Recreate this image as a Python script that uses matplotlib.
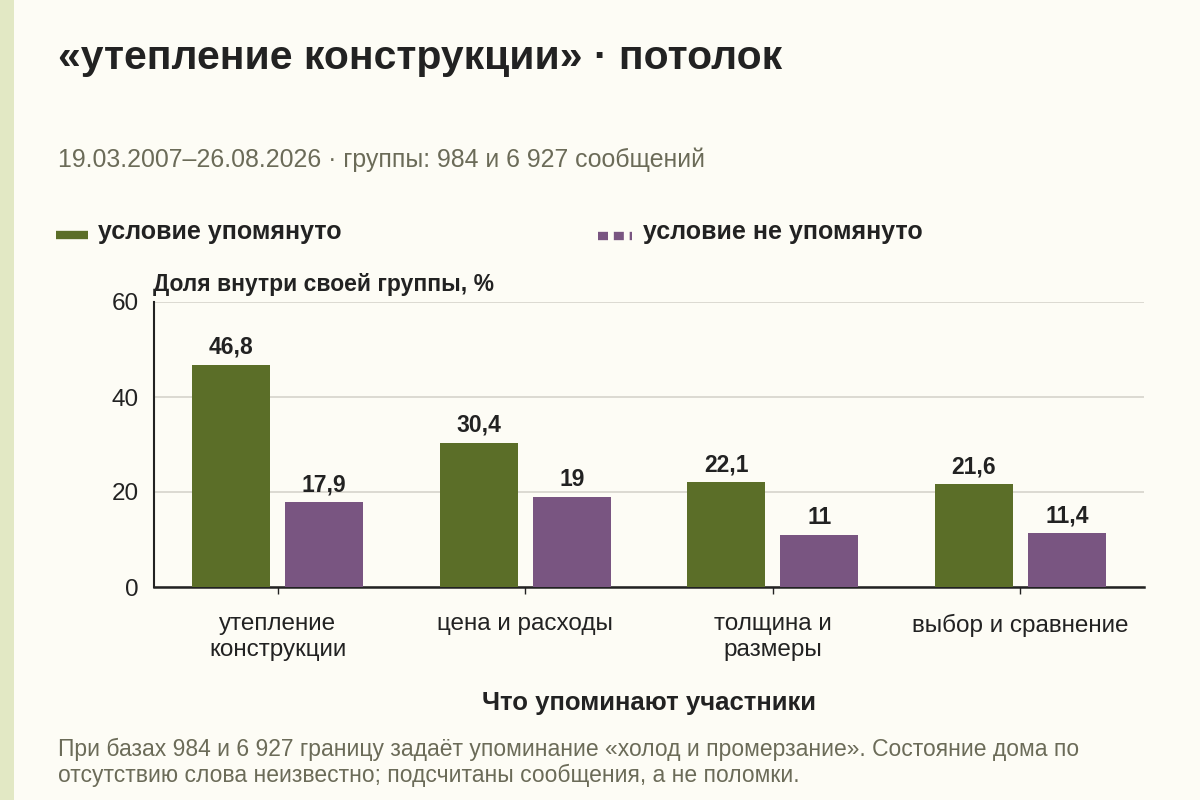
import matplotlib
matplotlib.use("Agg")
import matplotlib.pyplot as plt
from matplotlib.lines import Line2D
from matplotlib.patches import Rectangle
import numpy as np

plt.rcParams['font.family'] = ['Liberation Sans', 'DejaVu Sans']

categories = ["утепление\nконструкции", "цена и расходы", "толщина и\nразмеры", "выбор и сравнение"]
mentioned = [46.8, 30.4, 22.1, 21.6]
not_mentioned = [17.9, 19, 11, 11.4]
mentioned_labels = ["46,8", "30,4", "22,1", "21,6"]
not_mentioned_labels = ["17,9", "19", "11", "11,4"]

green = "#5b6e28"
purple = "#795581"
bg = "#fdfcf5"
dark = "#222222"
grey = "#6b6b58"

fig = plt.figure(figsize=(12, 8), dpi=100, facecolor=bg)
fig.patches.append(Rectangle((0, 0), 14 / 1200, 1, transform=fig.transFigure,
                             facecolor="#e2e8c4", edgecolor="none", zorder=0))

ax = fig.add_axes([154 / 1200, 1 - 587 / 800, 990 / 1200, 285 / 800])
ax.set_facecolor(bg)

x = np.arange(len(categories))
w = 0.315
off = 0.188
b1 = ax.bar(x - off, mentioned, w, color=green, zorder=3)
b2 = ax.bar(x + off, not_mentioned, w, color=purple, zorder=3)

for rect, lab in zip(b1, mentioned_labels):
    ax.text(rect.get_x() + rect.get_width() / 2, rect.get_height() + 1.2, lab,
            ha="center", va="bottom", fontsize=16.5, fontweight="bold", color=dark)
for rect, lab in zip(b2, not_mentioned_labels):
    ax.text(rect.get_x() + rect.get_width() / 2, rect.get_height() + 1.2, lab,
            ha="center", va="bottom", fontsize=16.5, fontweight="bold", color=dark)

ax.set_xlim(-0.5, 3.5)
ax.set_ylim(0, 60)
ax.set_yticks([0, 20, 40, 60])
ax.yaxis.grid(True, color="#d6d4cc", linewidth=1.2, zorder=0)
ax.set_axisbelow(True)
for s in ["top", "right"]:
    ax.spines[s].set_visible(False)
ax.spines["left"].set_color(dark)
ax.spines["bottom"].set_color(dark)
ax.spines["left"].set_linewidth(1.5)
ax.spines["bottom"].set_linewidth(1.8)
ax.tick_params(axis="y", length=0, pad=11, labelsize=17.5, labelcolor=dark)
ax.tick_params(axis="x", length=5, width=1, color=dark, pad=14, labelsize=17.5, labelcolor=dark)
ax.set_xticks(x)
ax.set_xticklabels(categories, linespacing=1.2)

ax.set_xlabel("Что упоминают участники", fontsize=18.5, fontweight="bold", color=dark, labelpad=22)

fig.text(153 / 1200, 1 - 285 / 800, "Доля внутри своей группы, %", fontsize=16.5,
         fontweight="bold", color=dark, va="center", ha="left")

fig.text(58 / 1200, 1 - 58 / 800, "«утепление конструкции» · потолок", fontsize=29.4,
         fontweight="bold", color=dark, va="center", ha="left")
fig.text(58 / 1200, 1 - 160 / 800, "19.03.2007–26.08.2026 · группы: 984 и 6 927 сообщений",
         fontsize=17.9, color=grey, va="center", ha="left")

# legend
fig.add_artist(Line2D([56 / 1200, 88 / 1200], [1 - 235 / 800] * 2, color=green, linewidth=6,
                      solid_capstyle="butt"))
fig.text(98 / 1200, 1 - 232 / 800, "условие упомянуто", fontsize=18, fontweight="bold",
         color=dark, va="center", ha="left")
fig.add_artist(Line2D([598 / 1200, 632 / 1200], [1 - 236 / 800] * 2, color=purple, linewidth=6,
                      linestyle=(0, (1.2, 0.7)), solid_capstyle="butt", dash_capstyle="butt"))
fig.text(643 / 1200, 1 - 232 / 800, "условие не упомянуто", fontsize=18, fontweight="bold",
         color=dark, va="center", ha="left")

fig.text(58 / 1200, 1 - 762 / 800,
         "При базах 984 и 6 927 границу задаёт упоминание «холод и промерзание». Состояние дома по\n"
         "отсутствию слова неизвестно; подсчитаны сообщения, а не поломки.",
         fontsize=16.5, color=grey, va="center", ha="left", linespacing=1.15)

fig.savefig("out.png", dpi=100, facecolor=bg)
